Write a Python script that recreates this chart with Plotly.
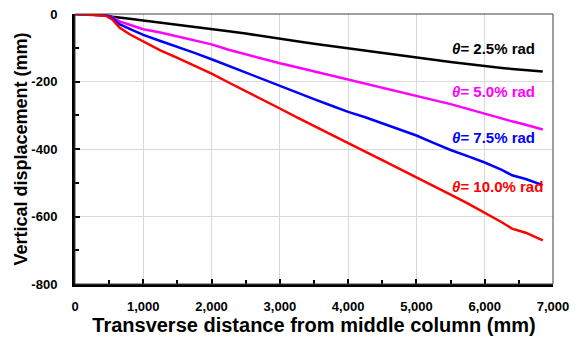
import plotly.graph_objects as go

x_mm = [0, 150, 300, 450, 550, 650, 800, 1000, 1250, 1500, 1750, 2000, 2250, 2500, 2750,
        3000, 3250, 3500, 3750, 4000, 4250, 4500, 4750, 5000, 5250, 5500, 5750, 6000,
        6250, 6400, 6600, 6850]

disp_25 = [0, -1, -2, -4, -8, -11, -14, -19, -25, -31, -37, -44, -51, -58, -66,
           -75, -81, -88, -95, -102, -108, -115, -122, -129, -135, -142, -148, -155,
           -160, -163, -166, -170]
disp_50 = [0, -1, -2, -4, -10, -22, -32, -45, -55, -66, -77, -90, -106, -120, -133,
           -146, -158, -170, -182, -194, -205, -217, -229, -241, -254, -267, -281, -296,
           -310, -318, -328, -342]
disp_75 = [0, -1, -2, -4, -12, -30, -44, -62, -80, -97, -115, -134, -154, -174, -194,
           -213, -232, -252, -271, -290, -306, -324, -342, -360, -382, -403, -421, -440,
           -462, -478, -489, -507]
disp_100 = [0, -1, -2, -5, -17, -40, -60, -82, -108, -130, -153, -177, -203, -228, -254,
            -280, -306, -332, -358, -384, -408, -433, -458, -483, -508, -535, -561, -588,
            -617, -636, -648, -671]

series = [
    ("θ= 2.5% rad", disp_25, "#000000", -101),
    ("θ= 5.0% rad", disp_50, "#ff00ff", -229),
    ("θ= 7.5% rad", disp_75, "#0000ff", -366),
    ("θ= 10.0% rad", disp_100, "#ff0000", -512),
]
label_x = 5490

x_ticks = [0, 1000, 2000, 3000, 4000, 5000, 6000, 7000]
x_tick_text = ["0", "1,000", "2,000", "3,000", "4,000", "5,000", "6,000", "7,000"]
y_ticks = [0, -200, -400, -600, -800]
y_tick_text = ["0", "-200", "-400", "-600", "-800"]

FONT = "Liberation Sans, Arial, sans-serif"

fig = go.Figure()
annotations = []
for name, ys, color, ly in series:
    fig.add_trace(go.Scatter(x=x_mm, y=ys, mode="lines", name=name,
                             line=dict(color=color, width=2.5), showlegend=False))
    theta, rest = name.split("=", 1)
    annotations.append(dict(
        x=label_x, y=ly, xref="x", yref="y", xanchor="left", yanchor="middle",
        text="<b><i>" + theta + "</i>=" + rest + "</b>", showarrow=False,
        font=dict(family=FONT, size=15, color=color)))

fig.update_layout(
    width=579, height=340,
    margin=dict(l=75, r=26, t=14, b=56),
    paper_bgcolor="white", plot_bgcolor="white",
    font=dict(family=FONT, color="black"),
    annotations=annotations,
    shapes=[dict(type="rect", xref="paper", yref="paper", x0=0, y0=0, x1=1, y1=1,
                 line=dict(color="#404040", width=1), layer="above")],
)
fig.update_xaxes(
    range=[0, 7000], tickvals=x_ticks, ticktext=x_tick_text,
    showgrid=True, gridcolor="#d9d9d9", gridwidth=1,
    showline=True, linecolor="black", linewidth=3,
    ticks="inside", ticklen=5, tickwidth=2, tickcolor="black",
    minor=dict(ticks="inside", dtick=500, tick0=0, ticklen=4, tickwidth=2, tickcolor="black", showgrid=False),
    tickfont=dict(family=FONT, size=13, color="black", weight="bold"),
    ticklabelstandoff=8,
    title=dict(text="<b>Transverse distance from middle column (mm)</b>",
               font=dict(family=FONT, size=20, color="black"), standoff=6),
    zeroline=False, automargin=False,
)
fig.update_yaxes(
    range=[-800, 0], tickvals=y_ticks, ticktext=y_tick_text,
    showgrid=True, gridcolor="#d9d9d9", gridwidth=1,
    showline=True, linecolor="black", linewidth=3,
    ticks="inside", ticklen=5, tickwidth=2, tickcolor="black",
    minor=dict(ticks="inside", dtick=100, tick0=0, ticklen=4, tickwidth=2, tickcolor="black", showgrid=False),
    tickfont=dict(family=FONT, size=13, color="black", weight="bold"),
    ticklabelstandoff=12,
    title=dict(text="<b>Vertical displacement (mm)</b>",
               font=dict(family=FONT, size=18, color="black"), standoff=0),
    zeroline=False, automargin=False,
)

fig.write_html("out.html")
